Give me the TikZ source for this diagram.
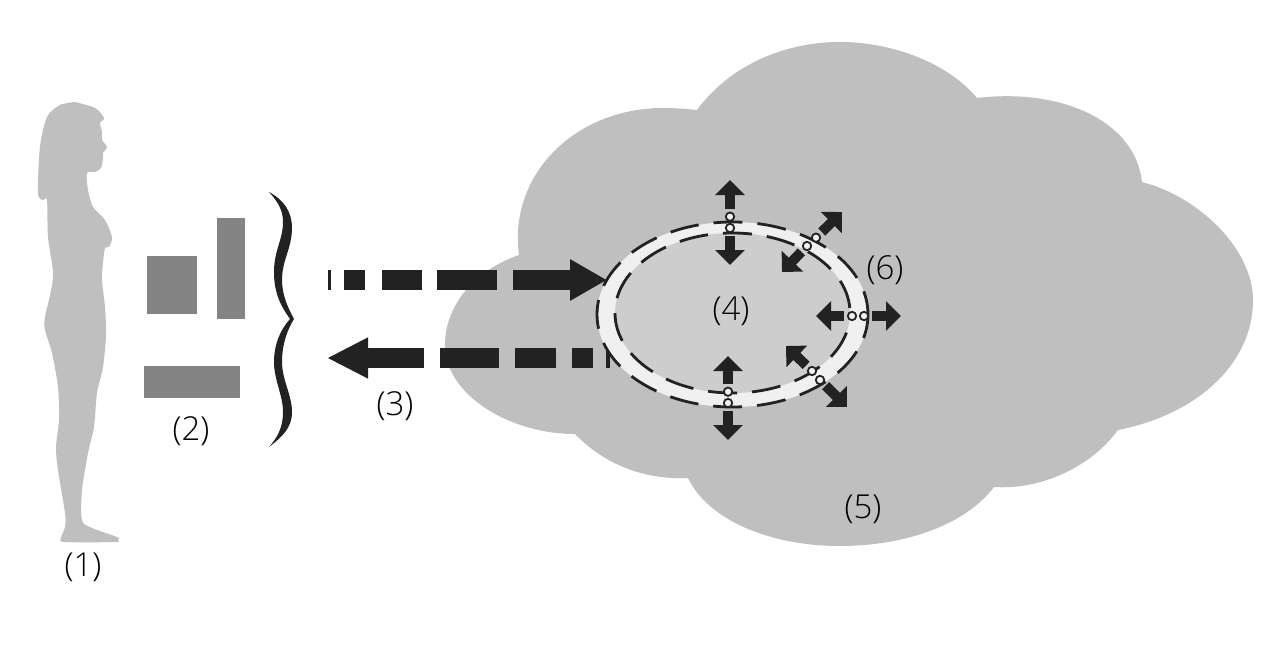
\documentclass[tikz,border=0pt]{standalone}
\usepackage{fontspec}
\setmainfont{Open Sans Light}
\usetikzlibrary{arrows.meta,calc}
\definecolor{silver}{HTML}{BFBFBF}
\definecolor{corecol}{HTML}{CDCDCD}
\definecolor{ringcol}{HTML}{F0F0F0}
\definecolor{barcol}{HTML}{848484}
\definecolor{inkcol}{HTML}{222222}

\begin{document}
\begin{tikzpicture}[
  x=0.5pt, y=-0.5pt,
  label/.style={font=\fontsize{16.5}{19}\selectfont, text=black},
  bar/.style={fill=barcol},
  dashring/.style={draw=inkcol, line width=1.4pt, dash pattern=on 14.5pt off 7.5pt},
  port/.style={circle, draw=inkcol, fill=ringcol, line width=0.9pt, inner sep=0pt, minimum size=4.2pt},
  smallarr/.style={-{Triangle[width=14.5pt,length=7.5pt]}, draw=inkcol, line width=5pt, shorten <=1.5pt},
  blockarr/.style={draw=inkcol, line width=10pt}
]

\fill[white] (0,0) rectangle (1284,658);
\useasboundingbox (0,0) rectangle (1284,658);

\fill[silver] (697,110) .. controls (730,65) and (785,42) .. (840,42)
  .. controls (895,42) and (950,65) .. (977,98)
  .. controls (1060,88) and (1135,120) .. (1142,182)
  .. controls (1200,197) and (1253,250) .. (1253,300)
  .. controls (1253,365) and (1195,415) .. (1118,430)
  .. controls (1090,468) and (1040,490) .. (994,487)
  .. controls (965,525) and (905,546) .. (840,546)
  .. controls (770,546) and (708,520) .. (688,478)
  .. controls (645,480) and (605,465) .. (575,434)
  .. controls (510,434) and (445,395) .. (445,345)
  .. controls (445,305) and (475,270) .. (519,255)
  .. controls (508,175) and (575,108) .. (663,108)
  .. controls (675,108) and (687,109) .. (697,110) -- cycle;

\fill[silver] plot[smooth, tension=0.5] coordinates {
  (75,102) (95,108) (104,118) (100,123) (102,132) (102,140) (107,147) (103,153) (103,158)
  (101,168) (95,172) (87,173) (88,190) (93,207) (105,220) (112,237) (109,247) (105,248)
  (103,263) (102,280) (105,307) (106,335) (103,367) (97,393) (94,427) (88,453) (82,490)
  (82,520) (92,528) (117,537) (118,540) (115,542) (65,542) (61,538) (65,527) (65,513)
  (58,470) (56,447) (59,420) (58,387) (52,353) (45,330) (45,317) (53,277) (48,237)
  (47,200) (43,200) (38,193) (40,147) (47,117) (60,105) (75,102)};

\fill[bar] (147,256) rectangle (197,314);
\fill[bar] (217,218) rectangle (245,319);
\fill[bar] (144,366) rectangle (240,398);

\fill[inkcol] (269,192) .. controls (284,200) and (292,212) .. (292,228)
  .. controls (292,248) and (282,260) .. (282,280)
  .. controls (282,295) and (288,308) .. (294,319)
  .. controls (287,330) and (282,345) .. (282,362)
  .. controls (282,380) and (292,395) .. (292,412)
  .. controls (292,428) and (282,437) .. (269,447)
  .. controls (277,438) and (283,428) .. (283,412)
  .. controls (283,395) and (274,380) .. (274,362)
  .. controls (274,345) and (280,330) .. (290,319)
  .. controls (280,305) and (274,292) .. (274,272)
  .. controls (274,250) and (283,240) .. (283,222)
  .. controls (283,210) and (278,202) .. (269,192) -- cycle;

\foreach \a/\b in {328/331, 344/365, 382/422, 437/497}
  \fill[inkcol] (\a,270) rectangle (\b,290);
\coordinate (sendtail) at (513,280);
\coordinate (sendtip) at (607,280);
\draw[blockarr, -{Triangle[width=19.5pt,length=18.5pt]}] (sendtail) -- (sendtip);

\foreach \a/\b in {440/499, 515/556, 572/593, 606/610}
  \fill[inkcol] (\a,348) rectangle (\b,368);
\coordinate (backtail) at (424,358);
\coordinate (backtip) at (327,358);
\draw[blockarr, -{Triangle[width=19pt,length=20.5pt]}] (backtail) -- (backtip);

\fill[ringcol] (732.5,314.5) ellipse [x radius=135.5, y radius=92.5];
\fill[corecol] (732.5,313) ellipse [x radius=117.5, y radius=80];
\draw[dashring, dash phase=2.5pt] (732.5,314.5) ellipse [x radius=135.5, y radius=92.5];
\draw[dashring, dash phase=12pt] (732.5,313) ellipse [x radius=117.5, y radius=80];

\foreach \name/\x/\y/\tx/\ty in {
  a/730/216.7/730/180, b/730/228/730/265,
  c/816/237.7/842/212, d/807/246/782/272,
  e/852/316/816/316, f/864/316/901/316,
  g/820/380/847/407, h/812/371/786/346,
  i/728/391.7/728/356, j/728/403/728/440}{
  \node[port] (port\name) at (\x,\y) {};
  \coordinate (tip\name) at (\tx,\ty);
  \draw[smallarr] (port\name) -- (tip\name);
}

\node[label] (person) at (83,567) {(1)};
\node[label] (bars) at (191,431) {(2)};
\node[label] (link) at (395,406) {(3)};
\node[label] (core) at (731,311) {(4)};
\node[label] (cloud) at (863,509) {(5)};
\node[label] (ring) at (885,270) {(6)};

\end{tikzpicture}
\end{document}
